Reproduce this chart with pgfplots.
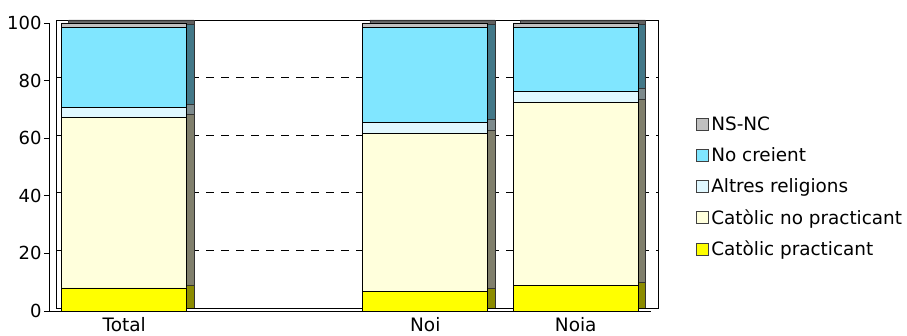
\documentclass[border=0pt]{standalone}
\usepackage{pgfplots}
\pgfplotsset{compat=1.18}
\usepackage{fontspec}
\setmainfont{DejaVu Sans}
\definecolor{cpF}{HTML}{FFFF00}
\definecolor{cnpF}{HTML}{FFFFDC}
\definecolor{arF}{HTML}{E0F8FF}
\definecolor{ncF}{HTML}{80E6FF}
\definecolor{nsF}{HTML}{C0C0C0}
\definecolor{cpS}{HTML}{8C8C00}
\definecolor{cnpS}{HTML}{807F6C}
\definecolor{arS}{HTML}{7D8A8C}
\definecolor{ncS}{HTML}{437888}
\definecolor{nsS}{HTML}{606060}
\pgfplotsset{
  common/.style={
    scale only axis, width=602pt, height=288pt,
    ymin=0, ymax=100, xmin=-0.5, xmax=3.5,
    ybar stacked, bar width=125pt,
  }
}
\begin{document}
\begin{tikzpicture}[x=1pt,y=1pt]
\useasboundingbox (0,0) rectangle (907,336);
% back wall, grid and side faces
\begin{axis}[common, at={(56pt,28pt)}, anchor=south west,
  xtick=\empty, ytick={0,20,40,60,80,100}, yticklabels={},
  major tick length=0pt,
  ymajorgrids, grid style={black, dash pattern=on 8pt off 7pt, line width=0.6pt},
  axis line style={black, line width=0.6pt},
  every axis plot/.append style={draw=black!80, line width=0.5pt}]
\addplot[fill=cpS] coordinates {(0,8.0) (2,6.9) (3,8.9)};
\addplot[fill=cnpS] coordinates {(0,59.2) (2,54.7) (3,63.5)};
\addplot[fill=arS] coordinates {(0,3.6) (2,3.8) (3,3.8)};
\addplot[fill=ncS] coordinates {(0,27.8) (2,33.2) (3,22.4)};
\addplot[fill=nsS] coordinates {(0,1.4) (2,1.4) (3,1.4)};
\end{axis}
% front faces
\begin{axis}[common, at={(49pt,25pt)}, anchor=south west,
  axis x line=bottom, axis y line=left,
  axis line style={-, black, line width=0.7pt},
  xtick={0,2,3}, xticklabels={Total,Noi,Noia},
  x tick style={draw=none},
  ytick={0,20,40,60,80,100},
  tick align=outside, major tick length=5pt,
  y tick style={black, line width=0.6pt},
  /pgf/number format/assume math mode=true,
  tick label style={font=\fontsize{18}{21}\selectfont},
  xticklabel style={yshift=2pt, font=\fontsize{18.5}{21}\selectfont},
  yticklabel style={xshift=1pt},
  every axis plot/.append style={draw=black, line width=0.7pt},
  reverse legend,
  legend cell align=left,
  legend image code/.code={\draw[#1,draw=black!75,line width=0.6pt] (0pt,-6pt) rectangle (12pt,6pt);},
  legend style={draw=none, fill=none, at={(1,0.5)}, anchor=west, xshift=42pt, yshift=-20pt,
    font=\fontsize{18.4}{21}\selectfont, row sep=11.5pt,
    nodes={inner xsep=2.5pt, inner ysep=2pt}},
]
\addplot[fill=cpF] coordinates {(0,8.0) (2,6.9) (3,8.9)};
\addplot[fill=cnpF] coordinates {(0,59.2) (2,54.7) (3,63.5)};
\addplot[fill=arF] coordinates {(0,3.6) (2,3.8) (3,3.8)};
\addplot[fill=ncF] coordinates {(0,27.8) (2,33.2) (3,22.4)};
\addplot[fill=nsF] coordinates {(0,1.4) (2,1.4) (3,1.4)};
\legend{Catòlic practicant, Catòlic no practicant, Altres religions, No creient, NS-NC}
\end{axis}
\end{tikzpicture}
\end{document}
